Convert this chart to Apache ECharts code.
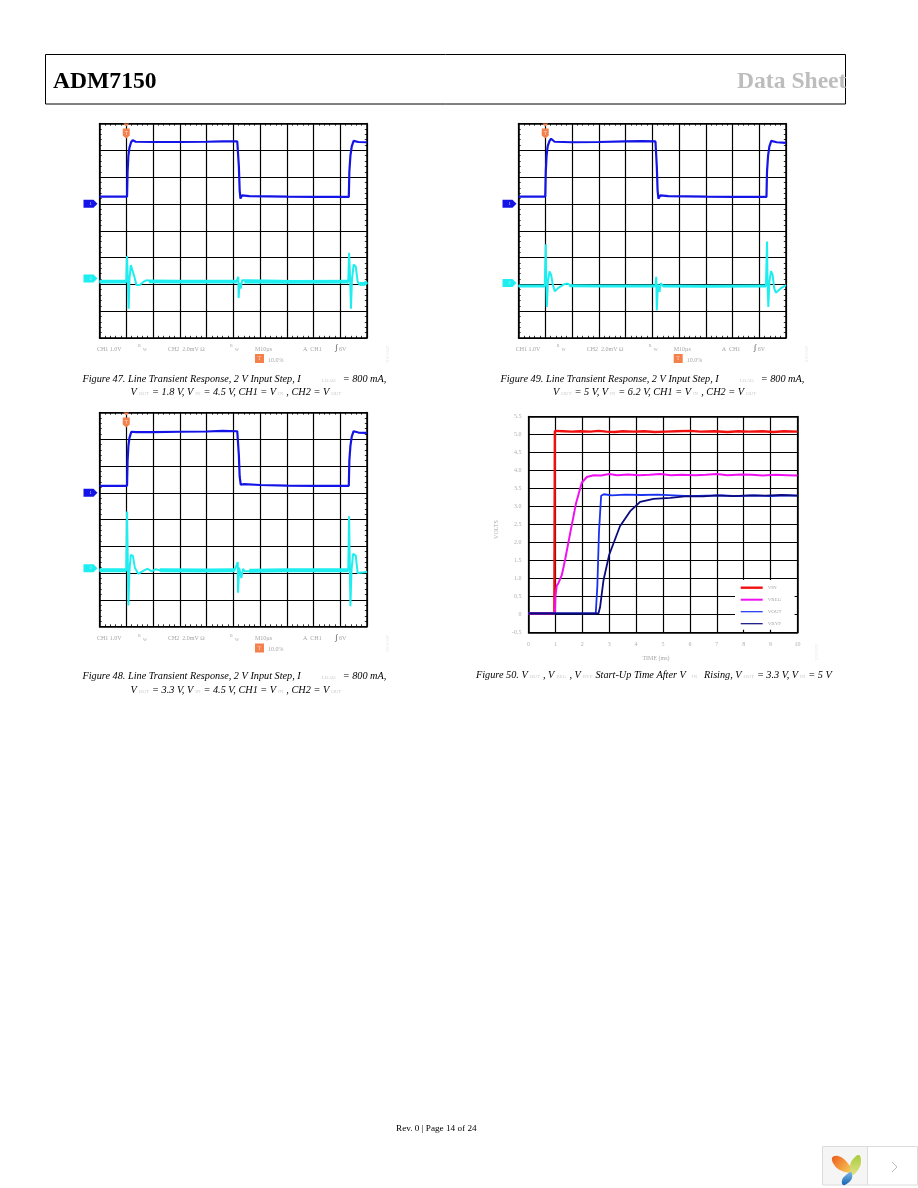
<!DOCTYPE html>
<html><head><meta charset="utf-8">
<style>html,body{margin:0;padding:0;background:#fff}#c{width:918px;height:1188px}</style>
<script src="https://cdn.jsdelivr.net/npm/echarts@6/dist/echarts.min.js"></script>
</head><body><div id="c"></div>
<script>
// ---------- data: scope traces, x = divisions (0-10), y = divisions (0-8)
const fig47Ch1 = [[0,5.27],[1.03,5.27],[1.05,6.2],[1.08,6.8],[1.12,7.1],[1.18,7.3],[1.24,7.38],[1.35,7.32],[2,7.31],[3,7.31],[4,7.32],[4.6,7.33],[5.15,7.33],[5.19,7.3],[5.21,6.4],[5.24,5.5],[5.27,5.2],[5.33,5.32],[5.6,5.29],[7,5.27],[8,5.26],[9.32,5.26],[9.34,6.2],[9.38,6.8],[9.43,7.15],[9.5,7.35],[9.56,7.39],[9.68,7.31],[10,7.3]];
const fig47Ch2 = [[0,2.1],[1.0,2.1],[1.03,3.06],[1.06,2.1],[1.09,1.09],[1.12,2.2],[1.17,2.72],[1.24,2.66],[1.3,2.3],[1.38,1.98],[1.5,1.98],[1.65,2.1],[1.78,2.16],[1.95,2.1],[5.12,2.1],[5.19,2.28],[5.2,1.49],[5.24,2.05],[5.28,1.84],[5.33,2.15],[5.4,2.1],[9.3,2.1],[9.33,3.18],[9.37,2.2],[9.4,1.09],[9.44,2.2],[9.5,2.74],[9.58,2.66],[9.65,2.1],[9.72,2.0],[9.9,2.0],[10,2.1]];
const fig47Band = [[0,2.1],[1.0,2.1],[1.01,'-'],[1.85,2.11],[3,2.1],[5.12,2.1],[5.13,'-'],[5.42,2.1],[7,2.09],[9.3,2.1],[9.31,'-'],[9.72,2.02],[9.9,2.02],[10,2.08]];
const fig49Ch1 = [[0,5.27],[1.0,5.27],[1.02,6.2],[1.05,6.8],[1.09,7.15],[1.16,7.35],[1.22,7.43],[1.35,7.32],[2,7.3],[3,7.31],[4,7.33],[4.6,7.34],[5.12,7.33],[5.15,7.3],[5.17,6.4],[5.2,5.5],[5.23,5.2],[5.3,5.32],[5.6,5.29],[7,5.27],[8,5.26],[9.27,5.26],[9.29,6.2],[9.33,6.8],[9.38,7.15],[9.45,7.35],[9.51,7.41],[9.65,7.3],[10,7.28]];
const fig49Ch2 = [[0,1.94],[0.98,1.94],[1.02,3.5],[1.04,2.1],[1.06,1.16],[1.1,2.1],[1.16,2.48],[1.22,2.35],[1.28,2.0],[1.36,1.74],[1.5,1.88],[1.7,2.0],[1.82,2.03],[2,1.95],[5.12,1.94],[5.15,2.28],[5.17,1.03],[5.21,2.0],[5.27,1.72],[5.32,2.05],[5.4,1.94],[9.25,1.94],[9.29,3.6],[9.31,2.1],[9.34,1.16],[9.38,2.1],[9.44,2.49],[9.5,2.35],[9.56,1.85],[9.62,1.69],[9.8,1.85],[10,1.97]];
const fig49Band = [[0,1.94],[0.98,1.94],[0.99,'-'],[1.9,1.95],[3,1.94],[5.12,1.94],[5.13,'-'],[5.4,1.94],[7,1.93],[9.25,1.94]];
const fig48Ch1 = [[0,5.26],[1.03,5.26],[1.05,6.2],[1.08,6.75],[1.12,7.05],[1.19,7.28],[1.26,7.35],[1.38,7.27],[2,7.27],[3,7.28],[4,7.29],[4.6,7.31],[5.15,7.3],[5.19,7.27],[5.21,6.4],[5.24,5.6],[5.28,5.3],[5.4,5.32],[6,5.29],[7,5.27],[8,5.26],[9.32,5.26],[9.34,6.2],[9.38,6.75],[9.43,7.1],[9.5,7.3],[9.57,7.35],[9.68,7.25],[10,7.24]];
const fig48Ch2 = [[0,2.1],[1.0,2.1],[1.03,4.3],[1.06,2.3],[1.08,0.79],[1.12,2.1],[1.17,2.68],[1.25,2.64],[1.32,2.2],[1.45,1.97],[1.6,2.06],[1.8,2.16],[1.95,2.06],[2.1,2.14],[2.25,2.1],[5.05,2.1],[5.17,2.41],[5.18,1.26],[5.22,2.2],[5.3,1.81],[5.36,2.15],[5.43,2.07],[9.3,2.1],[9.33,4.12],[9.36,2.1],[9.38,0.76],[9.42,2.1],[9.48,2.72],[9.58,2.65],[9.65,2.0],[9.72,1.98],[9.9,2.03],[10,2.05]];
const fig48Band = [[0,2.1],[1.0,2.1],[1.01,'-'],[2.25,2.1],[4,2.09],[5.05,2.1],[5.06,'-'],[5.6,2.08],[7,2.1],[9.3,2.1]];
// ---------- data: start-up plot, x = ms, y = volts
const timeLabels = ['0','1','2','3','4','5','6','7','8','9','10'];
const voltLabels = ['-0.5','0','0.5','1.0','1.5','2.0','2.5','3.0','3.5','4.0','4.5','5.0','5.5'];
const seriesNames = ['VIN','VREG','VOUT','VBYP'];
const vIn = [[0,0.03],[0.96,0.03],[0.98,5.1],[1.3,5.09],[1.6,5.08],[1.9,5.09],[2.3,5.08],[2.6,5.1],[2.9,5.08],[3.2,5.07],[3.5,5.09],[3.9,5.08],[4.3,5.09],[4.7,5.07],[5.1,5.08],[5.5,5.09],[6,5.1],[6.4,5.08],[6.9,5.09],[7.4,5.07],[7.8,5.09],[8.2,5.08],[8.7,5.09],[9.1,5.07],[9.5,5.09],[10,5.08]];
const vReg = [[0,0.03],[0.98,0.03],[1.0,0.5],[1.05,0.8],[1.11,0.87],[1.24,1.1],[1.36,1.52],[1.55,2.26],[1.77,3.1],[1.98,3.66],[2.17,3.82],[2.42,3.87],[2.7,3.86],[3,3.9],[3.3,3.87],[3.7,3.89],[4.1,3.87],[4.5,3.88],[4.9,3.9],[5.3,3.87],[5.7,3.88],[6.2,3.87],[6.6,3.88],[7,3.9],[7.4,3.87],[7.9,3.89],[8.3,3.88],[8.7,3.86],[9.2,3.88],[9.6,3.87],[10,3.86]];
const vOut = [[0,0.03],[2.5,0.03],[2.56,0.8],[2.62,2.3],[2.7,3.3],[2.8,3.34],[3.1,3.31],[3.6,3.33],[4.2,3.32],[4.8,3.33],[5.4,3.31],[6,3.29],[6.6,3.3],[7.2,3.31],[7.8,3.29],[8.4,3.31],[9,3.29],[9.5,3.31],[10,3.3]];
const vByp = [[0,0.03],[2.6,0.03],[2.66,0.2],[2.79,0.96],[3,1.66],[3.4,2.45],[3.78,2.87],[4.15,3.13],[4.65,3.21],[5.27,3.24],[5.9,3.29],[6.5,3.28],[7,3.31],[7.6,3.29],[8.2,3.31],[8.8,3.3],[9.4,3.32],[10,3.3]];
// ---------- text
const caption47 = ['{t|Figure 47. Line Transient Response, 2 V Input Step, I}{g|LOAD}{t|= 800 mA,}','{t|V}{s|OUT}{t|= 1.8 V, V}{s|IN}{t|= 4.5 V, CH1 = V}{s|IN}{t|, CH2 = V}{s|OUT}'];
const caption48 = ['{t|Figure 48. Line Transient Response, 2 V Input Step, I}{g|LOAD}{t|= 800 mA,}','{t|V}{s|OUT}{t|= 3.3 V, V}{s|IN}{t|= 4.5 V, CH1 = V}{s|IN}{t|, CH2 = V}{s|OUT}'];
const caption49 = ['{t|Figure 49. Line Transient Response, 2 V Input Step, I}{g|LOAD}{t|= 800 mA,}','{t|V}{s|OUT}{t|= 5 V, V}{s|IN}{t|= 6.2 V, CH1 = V}{s|IN}{t|, CH2 = V}{s|OUT}'];
const caption50 = ['{t|Figure 50. V}{c|OUT}{t|, V}{c|REG}{t|, V}{c|BYP}{t|Start-Up Time After V}{h|IN}{t|Rising, V}{c|OUT}{t|= 3.3 V, V}{c|IN}{t|= 5 V}'];

const serif = '"Liberation Serif","Times New Roman",serif';
const blue = '#1414e6', cyan = '#1eeef0', orange = '#f5814a';
const scopes = [
  {ch1:fig47Ch1,ch2:fig47Ch2,band:fig47Band,bw:3.8,l:99.5,t:123.5,w:267.5,h:214.5,m1:5.01,m2:2.22},
  {ch1:fig49Ch1,ch2:fig49Ch2,band:fig49Band,bw:3,l:518.5,t:123.5,w:267.5,h:214.5,m1:5.01,m2:2.05},
  {ch1:fig48Ch1,ch2:fig48Ch2,band:fig48Band,bw:4,l:99.5,t:412.5,w:267.5,h:214,m1:5.0,m2:2.18}
];
const grid=[],xAxis=[],yAxis=[],series=[];
const lineBlack={lineStyle:{color:'#000',width:1.2}};
function axisCommon(min,max,interval,show){
  return {type:'value',min,max,interval,axisLabel:{show:false},
    axisLine:{show:true,onZero:false,lineStyle:{color:'#000',width:1.5}},
    axisTick:{show:false,inside:true,length:2},
    minorTick:{show:show,splitNumber:5,length:2.2,lineStyle:{color:'#000',width:0.8}},
    minorSplitLine:{show:false},splitLine:{show:false}};
}
scopes.forEach((s,i)=>{
  const g=grid.length;
  grid.push({left:s.l,top:s.t,width:s.w,height:s.h,containLabel:false});
  const xb=xAxis.length;
  xAxis.push(Object.assign(axisCommon(0,10,1,true),{gridIndex:g,position:'bottom',splitLine:Object.assign({show:true},lineBlack)}));
  xAxis.push(Object.assign(axisCommon(0,10,1,true),{gridIndex:g,position:'top'}));
  const yb=yAxis.length;
  yAxis.push(Object.assign(axisCommon(0,8,1,true),{gridIndex:g,position:'left',splitLine:Object.assign({show:true},lineBlack)}));
  yAxis.push(Object.assign(axisCommon(0,8,1,true),{gridIndex:g,position:'right'}));
  const base={type:'line',xAxisIndex:xb,yAxisIndex:yb,symbol:'none',animation:false,silent:true,z:5};
  series.push(Object.assign({},base,{name:'CH2 band'+i,data:s.band,lineStyle:{color:cyan,width:s.bw},connectNulls:false}));
  series.push(Object.assign({},base,{name:'CH2'+i,data:s.ch2,lineStyle:{color:cyan,width:2},
    markPoint:{silent:true,animation:false,data:[{
      coord:[0,s.m2],symbol:'path://M0,0 L10,0 L14,4 L10,8 L0,8 Z',symbolSize:[14,8],symbolOffset:[-9,0],
      itemStyle:{color:cyan},label:{show:true,formatter:'2',color:'#9ff',fontSize:4}}]}}));
  series.push(Object.assign({},base,{name:'CH1'+i,data:s.ch1,lineStyle:{color:blue,width:2.2},
    markPoint:{silent:true,animation:false,data:[{
      coord:[0,s.m1],symbol:'path://M0,0 L10,0 L14,4 L10,8 L0,8 Z',symbolSize:[14,8],symbolOffset:[-9,0],
      itemStyle:{color:blue},label:{show:true,formatter:'1',color:'#ccf',fontSize:4}
    },{
      coord:[1,8],symbol:'triangle',symbolRotate:180,symbolSize:[6,3],symbolOffset:[0,1.5],
      itemStyle:{color:orange},label:{show:false}
    },{
      coord:[1,8],symbol:'path://M0,0 L10,0 L10,7 L5,10 L0,7 Z',symbolSize:[7,10],symbolOffset:[0,10],
      itemStyle:{color:orange},label:{show:true,formatter:'T',color:'#fdd',fontSize:5}
    }]}}));
});
// start-up plot
{
  const g=grid.length;
  grid.push({left:528.5,top:416.5,width:269,height:216});
  const xb=xAxis.length,yb=yAxis.length;
  const lab={show:true,color:'#b0b0b0',fontFamily:serif,fontSize:6};
  xAxis.push(Object.assign(axisCommon(0,10,1,false),{gridIndex:g,position:'bottom',
    splitLine:Object.assign({show:true},lineBlack),name:'TIME (ms)',nameLocation:'middle',nameGap:23,
    nameTextStyle:{color:'#a8a8a8',fontFamily:serif,fontSize:6,padding:[0,14,0,0]},
    axisLabel:Object.assign({},lab,{margin:9,formatter:(v)=>timeLabels[Math.round(v)]})}));
  xAxis.push(Object.assign(axisCommon(0,10,1,false),{gridIndex:g,position:'top'}));
  yAxis.push(Object.assign(axisCommon(-0.5,5.5,0.5,false),{gridIndex:g,position:'left',
    splitLine:Object.assign({show:true},lineBlack),name:'VOLTS',nameLocation:'middle',nameGap:29,nameRotate:90,
    nameTextStyle:{color:'#a8a8a8',fontFamily:serif,fontSize:6,padding:[0,10,0,0]},
    axisLabel:Object.assign({},lab,{margin:7,formatter:(v)=>voltLabels[Math.round((v+0.5)*2)]})}));
  yAxis.push(Object.assign(axisCommon(-0.5,5.5,0.5,false),{gridIndex:g,position:'right'}));
  const base={type:'line',xAxisIndex:xb,yAxisIndex:yb,symbol:'none',animation:false,silent:true,z:5};
  [[vIn,'#f01010',2.4],[vReg,'#f010f0',2],[vOut,'#1830f0',1.8],[vByp,'#0a0a80',1.8]].forEach((d,i)=>{
    series.push(Object.assign({},base,{name:seriesNames[i],data:d[0],lineStyle:{color:d[1],width:d[2]},itemStyle:{color:d[1]}}));
  });
}
// ---------- page furniture
const gfx=[];
const txt=(x,y,text,o)=>gfx.push({type:'text',x,y,silent:true,z:20,style:Object.assign({text,fill:'#a6a6a6',fontFamily:serif,fontSize:6,verticalAlign:'middle'},o||{})});
gfx.push({type:'rect',shape:{x:45.5,y:54.5,width:800,height:49.5},style:{fill:'none',stroke:'#000',lineWidth:1},silent:true});
txt(53,81.5,'ADM7150',{fill:'#000',fontSize:23.6,fontWeight:'bold'});
txt(737,82,'Data Sheet',{fill:'#bdbdbd',fontSize:23.6,fontWeight:'bold'});
txt(396,1128.5,'Rev. 0 | Page 14 of 24',{fill:'#000',fontSize:9.2});
const richCap={t:{fontFamily:serif,fontStyle:'italic',fontSize:10.25,fill:'#000',color:'#000'},
  s:{fontFamily:serif,fontSize:5,fill:'#ccc',color:'#ccc',padding:[3,3,0,2]},
  c:{fontFamily:serif,fontSize:5,fill:'#ccc',color:'#ccc',padding:[3,3,0,2]},
  g:{fontFamily:serif,fontSize:5,fill:'#ccc',color:'#ccc',padding:[3,7,0,21]},
  h:{fontFamily:serif,fontSize:5,fill:'#ccc',color:'#ccc',padding:[3,7,0,6]}};
const cap=(x,y,s)=>gfx.push({type:'text',x,y,silent:true,z:20,style:{text:s,rich:richCap,verticalAlign:'middle'}});
cap(82.5,379,caption47[0]);cap(130.5,392,caption47[1]);
cap(500.5,379,caption49[0]);cap(553,392,caption49[1]);
cap(82.5,676.5,caption48[0]);cap(130.5,690,caption48[1]);
cap(476,675.5,caption50[0]);
function readout(dx,dy){
  txt(97+dx,349+dy,'CH1 1.0V');txt(138+dx,346+dy,'B',{fontSize:4});txt(143+dx,350+dy,'W',{fontSize:4});
  txt(168+dx,349+dy,'CH2  2.0mV Ω');txt(230+dx,346+dy,'B',{fontSize:4});txt(235+dx,350+dy,'W',{fontSize:4});
  txt(255+dx,349+dy,'M10µs');txt(303+dx,349+dy,'A  CH1');txt(335+dx,348+dy,'∫',{fill:'#444',fontSize:8});txt(339+dx,349+dy,'6V');
  gfx.push({type:'rect',shape:{x:255+dx,y:354+dy,width:9,height:9},style:{fill:orange},silent:true,z:20});
  txt(257.5+dx,358.5+dy,'T',{fill:'#fcc',fontSize:6});
  txt(268+dx,360+dy,'10.0%');
  gfx.push({type:'text',x:386+dx,y:363+dy,rotation:Math.PI/2,silent:true,style:{text:'11013-047',fill:'#e4e4e4',fontFamily:serif,fontSize:4}});
}
readout(0,0);readout(418.7,0);readout(0,289.5);
gfx.push({type:'text',x:815,y:661,rotation:Math.PI/2,silent:true,style:{text:'11013-050',fill:'#e4e4e4',fontFamily:serif,fontSize:4}});
// corner widget
gfx.push({type:'rect',shape:{x:822.5,y:1146.5,width:45,height:38.5},style:{fill:'#f5f5f5',stroke:'#dcdcdc',lineWidth:1},silent:true});
gfx.push({type:'rect',shape:{x:867.5,y:1146.5,width:50,height:38.5},style:{fill:'#fff',stroke:'#dcdcdc',lineWidth:1},silent:true});
const grad=(a,b,x,y,x2,y2)=>({type:'linear',x,y,x2,y2,colorStops:[{offset:0,color:a},{offset:1,color:b}]});
gfx.push({type:'polygon',shape:{smooth:0.4,points:[[832,1158],[838,1156],[846,1161],[852,1172],[842,1171],[835,1166]]},style:{fill:grad('#ee5a1e','#f7d35c',0,0,1,1)},silent:true});
gfx.push({type:'polygon',shape:{smooth:0.4,points:[[859,1155],[861,1162],[858,1170],[852,1175],[850,1166],[853,1159]]},style:{fill:grad('#a8cc3a','#e2e08a',0,0,0,1)},silent:true});
gfx.push({type:'polygon',shape:{smooth:0.4,points:[[851,1172],[852,1178],[848,1183],[843,1185],[842,1180],[846,1175]]},style:{fill:grad('#7ab8e4','#1764b4',0,0,0,1)},silent:true});
gfx.push({type:'polyline',shape:{points:[[892,1162],[897,1167],[892,1172]]},style:{fill:'none',stroke:'#bbb',lineWidth:1},silent:true});

const bar=(t)=>'path://M0,0 L0,0 M22,6 L22,6 M0,'+(3-t/2)+' L22,'+(3-t/2)+' L22,'+(3+t/2)+' L0,'+(3+t/2)+' Z';
const chart=echarts.init(document.getElementById('c'),null,{renderer:'canvas'});
chart.setOption({
  animation:false,backgroundColor:'#fff',
  grid,xAxis,yAxis,series,graphic:gfx,
  legend:{show:true,orient:'vertical',left:735,top:580,itemWidth:22,itemHeight:6,itemGap:6,
    data:[{name:seriesNames[0],icon:bar(2.4)},{name:seriesNames[1],icon:bar(2)},{name:seriesNames[2],icon:bar(1.2)},{name:seriesNames[3],icon:bar(1.2)}],
    padding:[4.7,13,3,5.7],backgroundColor:'#fff',selectedMode:false,z:10,
    textStyle:{color:'#a8a8a8',fontFamily:serif,fontSize:5}},
  tooltip:{show:false}
});
</script></body></html>
